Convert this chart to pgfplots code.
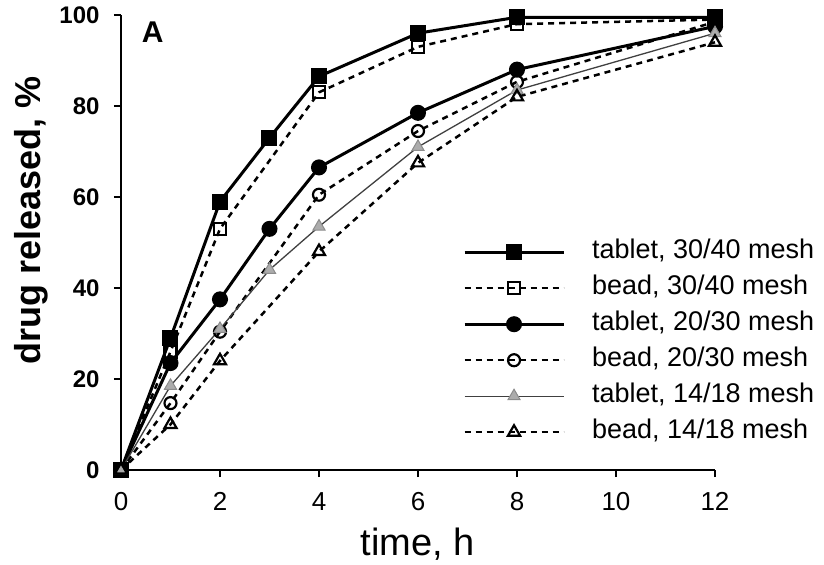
\documentclass[border=0pt]{standalone}
\usepackage{fontspec}
\setmainfont{Liberation Sans}
\usepackage{pgfplots}
\pgfplotsset{compat=1.18}

\begin{document}
\begin{tikzpicture}
\path[use as bounding box] (-121bp,-95bp) rectangle (703bp,470bp);
\begin{axis}[
    scale only axis,
    width=594bp, height=455bp,
    xmin=0, xmax=12, ymin=0, ymax=100,
    axis x line*=bottom, axis y line*=left,
    axis line style={-, line width=2.6bp},
    tick align=outside,
    major tick length=7bp,
    tick style={line width=2bp, black},
    xtick={0,2,...,12}, ytick={0,20,...,100},
    /pgf/number format/assume math mode=true,
    xticklabel style={font=\fontsize{26bp}{30bp}\selectfont, yshift=-12bp},
    yticklabel style={font=\fontsize{24bp}{28bp}\selectfont\bfseries, xshift=-11bp},
    xlabel={time, h},
    ylabel={drug released, \%},
    xlabel style={font=\fontsize{38bp}{44bp}\selectfont,
                  at={(axis description cs:0.5,-0.187)}, anchor=base},
    ylabel style={font=\fontsize{36bp}{40bp}\selectfont\bfseries,
                  at={(axis description cs:-0.1515,0.548)}, anchor=center},
    clip=false,
    legend cell align=left,
    legend style={draw=none, fill=none, inner sep=0pt, outer sep=0pt,
                  at={(axis description cs:0.5758,0.505)}, anchor=north west,
                  font=\fontsize{27bp}{30bp}\selectfont,
                  row sep=12bp, column sep=27bp,
                  nodes={inner sep=0pt, text height=18bp, text depth=6bp}},
    legend image code/.code={
        \draw[mark repeat=2, mark phase=2, #1]
            plot coordinates {(0bp,0bp) (49.5bp,0bp) (99bp,0bp)};
    },
]
% tablet, 30/40 mesh
\addplot[black, line width=3bp, mark=square*, mark size=6.5bp,
         mark options={solid}] coordinates {
    (0,0)(1,29)(2,59)(3,73)(4,86.5)(6,96)(8,99.5)(12,99.5)
};
\addlegendentry{tablet, 30/40 mesh}
% bead, 30/40 mesh
\addplot[black, line width=2.5bp, dash pattern=on 6bp off 5bp,
         mark=square, mark size=6bp,
         mark options={solid, fill=white, line width=2.2bp}] coordinates {
    (0,0)(1,26)(2,53)(4,83)(6,93)(8,98)(12,99)
};
\addlegendentry{bead, 30/40 mesh}
% tablet, 20/30 mesh
\addplot[black, line width=3bp, mark=*, mark size=6.5bp,
         mark options={solid}] coordinates {
    (0,0)(1,23.5)(2,37.5)(3,53)(4,66.5)(6,78.5)(8,88)(12,97.5)
};
\addlegendentry{tablet, 20/30 mesh}
% bead, 20/30 mesh
\addplot[black, line width=2.5bp, dash pattern=on 6bp off 5bp,
         mark=o, mark size=6bp,
         mark options={solid, fill=white, line width=2.2bp}] coordinates {
    (0,0)(1,14.7)(2,30.4)(4,60.5)(6,74.5)(8,85.3)(12,98.5)
};
\addlegendentry{bead, 20/30 mesh}
% tablet, 14/18 mesh
\addplot[black!75, line width=1.3bp, mark=triangle*, mark size=7bp,
         mark options={solid, fill=gray!65, draw=gray!90, line width=1bp}] coordinates {
    (0,0)(1,18.5)(2,31)(3,44)(4,53.5)(6,71)(8,83.5)(12,96)
};
\addlegendentry{tablet, 14/18 mesh}
% bead, 14/18 mesh
\addplot[black, line width=2.5bp, dash pattern=on 6bp off 5bp,
         mark=triangle, mark size=7bp,
         mark options={solid, fill=white, line width=2.2bp}] coordinates {
    (0,0)(1,10)(2,24)(4,48)(6,67.5)(8,82)(12,94)
};
\addlegendentry{bead, 14/18 mesh}
\node[anchor=north west, inner sep=0pt,
      font=\fontsize{30bp}{34bp}\selectfont\bfseries]
    at (axis description cs:0.035,0.985) {A};
\end{axis}
\end{tikzpicture}
\end{document}
